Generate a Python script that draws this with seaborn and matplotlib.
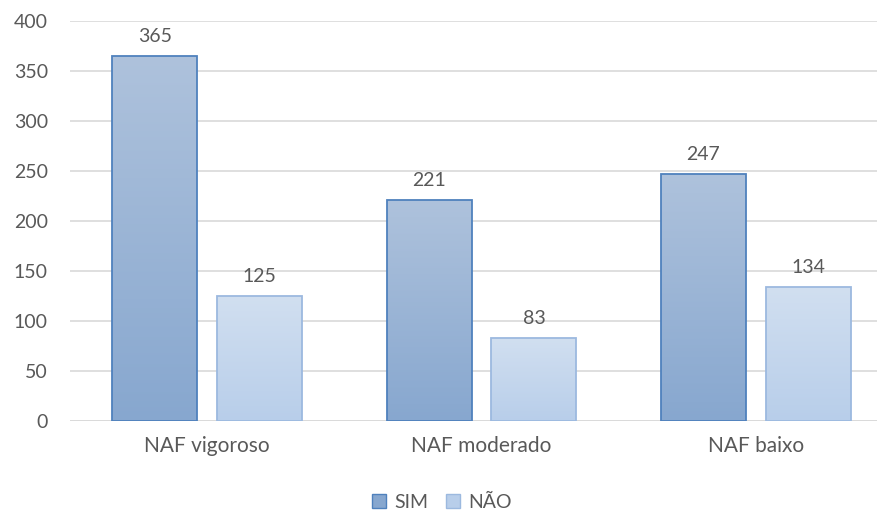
import numpy as np
import pandas as pd
import matplotlib.pyplot as plt
import seaborn as sns
from matplotlib.patches import Patch
from matplotlib.colors import LinearSegmentedColormap

categories = ["NAF vigoroso", "NAF moderado", "NAF baixo"]
series = ["SIM", "NÃO"]
sim_values = [365, 221, 247]
nao_values = [125, 83, 134]

df = pd.DataFrame({
    "categoria": categories * 2,
    "serie": ["SIM"] * 3 + ["NÃO"] * 3,
    "valor": sim_values + nao_values,
})

text_color = "#595959"
grid_color = "#D9D9D9"
fs = 14
# (top, bottom, edge) colours for the gradient fills
styles = {
    "SIM": ("#AEC2DC", "#87A7CF", "#4F81BD"),
    "NÃO": ("#D1DFF0", "#B8CEEA", "#9CB9DF"),
}

sns.set_style("white")
plt.rcParams["font.family"] = ["Lato", "DejaVu Sans"]

fig = plt.figure(figsize=(8.78, 5.12), dpi=100)
ax = fig.add_axes([70 / 878, 91 / 512, 823 / 878, 400 / 512])

sns.barplot(data=df, x="categoria", y="valor", hue="serie", hue_order=series,
            order=categories, width=0.764, gap=0.19, legend=False, ax=ax,
            palette=[styles[s][1] for s in series])

grad = np.linspace(0, 1, 256).reshape(-1, 1)
for container, name in zip(ax.containers, series):
    top, bottom, edge = styles[name]
    cmap = LinearSegmentedColormap.from_list(name, [top, bottom])
    for patch, val in zip(container.patches, container.datavalues):
        x0, y0 = patch.get_x(), patch.get_y()
        w, h = patch.get_width(), patch.get_height()
        img = ax.imshow(grad, cmap=cmap, aspect="auto",
                        extent=[x0, x0 + w, y0, y0 + h], origin="upper", zorder=2)
        img.set_clip_path(patch)
        patch.set_facecolor("none")
        patch.set_edgecolor(edge)
        patch.set_linewidth(1.3)
        patch.set_zorder(3)
        ax.annotate(f"{val:.0f}", (x0 + w / 2, y0 + h), xytext=(0, 8),
                    textcoords="offset points", ha="center", va="bottom",
                    fontsize=fs, color=text_color)

ax.set_xlim(-0.5, 2.5)
ax.set_ylim(0, 400)
ax.set_yticks(range(0, 401, 50))
ax.yaxis.grid(True, color=grid_color, linewidth=1.2)
ax.set_axisbelow(True)
for s in ax.spines.values():
    s.set_visible(False)
ax.axhline(0, color=grid_color, linewidth=1.2, zorder=1)
ax.tick_params(axis="y", length=0, pad=16, labelsize=fs, labelcolor=text_color)
ax.tick_params(axis="x", length=0, pad=11, labelsize=15, labelcolor=text_color)
ax.set_xlabel("")
ax.set_ylabel("")

handles = [Patch(facecolor=styles[s][1], edgecolor=styles[s][2], label=s) for s in series]
fig.legend(handles=handles, loc="center", bbox_to_anchor=(442 / 878, 1 - 502 / 512),
           ncol=2, frameon=False, fontsize=fs, labelcolor=text_color,
           handlelength=0.7, handleheight=0.7, handletextpad=0.45, columnspacing=0.9)

fig.savefig("out.png", dpi=100)
